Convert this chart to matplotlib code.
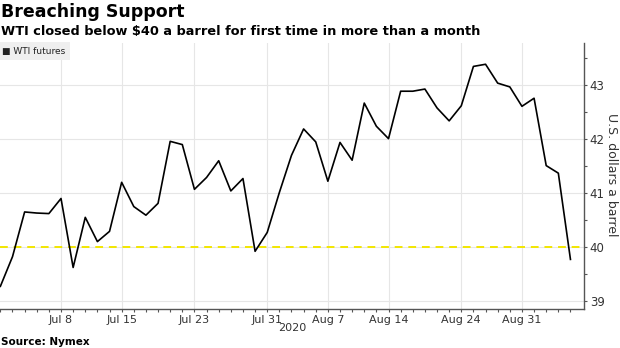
import matplotlib
matplotlib.use("Agg")
import matplotlib.pyplot as plt
from matplotlib.ticker import FixedLocator, MultipleLocator

# --- Data: WTI front-month closes (trading days only) ---
dates = ["Jun 30", "Jul 1", "Jul 2", "Jul 6", "Jul 7", "Jul 8", "Jul 9", "Jul 10",
         "Jul 13", "Jul 14", "Jul 15", "Jul 16", "Jul 17", "Jul 20", "Jul 21", "Jul 22",
         "Jul 23", "Jul 24", "Jul 27", "Jul 28", "Jul 29", "Jul 30", "Jul 31",
         "Aug 3", "Aug 4", "Aug 5", "Aug 6", "Aug 7", "Aug 10", "Aug 11", "Aug 12",
         "Aug 13", "Aug 14", "Aug 17", "Aug 18", "Aug 19", "Aug 20", "Aug 21",
         "Aug 24", "Aug 25", "Aug 26", "Aug 27", "Aug 28", "Aug 31",
         "Sep 1", "Sep 2", "Sep 3", "Sep 4"]
wti = [39.27, 39.82, 40.65, 40.63, 40.62, 40.90, 39.62, 40.55,
       40.10, 40.29, 41.20, 40.75, 40.59, 40.81, 41.96, 41.90,
       41.07, 41.29, 41.60, 41.04, 41.27, 39.92, 40.27,
       41.01, 41.70, 42.19, 41.95, 41.22, 41.94, 41.61, 42.67,
       42.24, 42.01, 42.89, 42.89, 42.93, 42.58, 42.34,
       42.62, 43.35, 43.39, 43.04, 42.97, 42.61,
       42.76, 41.51, 41.37, 39.77]
tick_labels = ["Jul 8", "Jul 15", "Jul 23", "Jul 31", "Aug 7", "Aug 14", "Aug 24", "Aug 31"]
support_level = 40
y_ticks = [39, 40, 41, 42, 43]

x = list(range(len(dates)))
tick_pos = [dates.index(lbl) for lbl in tick_labels]

fig = plt.figure(figsize=(6.2, 3.48), dpi=100)
ax = fig.add_axes([0.0, 0.1121, 0.9424, 0.7652])

ax.plot(x, wti, color="black", lw=1.2, zorder=3)
ax.axhline(support_level, color="#f2e600", lw=1.4, ls=(0, (4, 3)), zorder=2)

ax.set_xlim(-0.03, 48.14)
ax.set_ylim(38.85, 43.79)

# x axis: major ticks on labelled days, minor tick on every trading day
ax.xaxis.set_major_locator(FixedLocator(tick_pos))
ax.set_xticklabels(tick_labels)
ax.xaxis.set_minor_locator(FixedLocator(x))
ax.tick_params(axis="x", which="both", length=2.5, width=0.8, color="#555555",
               labelsize=8, labelcolor="#333333", pad=2)

# y axis on the right
ax.yaxis.tick_right()
ax.set_yticks(y_ticks)
ax.yaxis.set_minor_locator(MultipleLocator(0.5))
ax.tick_params(axis="y", which="both", length=2.5, width=0.8, color="#555555",
               labelsize=8.5, labelcolor="#333333", pad=1.5)

ax.grid(True, which="major", color="#e6e6e6", lw=0.8, zorder=0)
for side in ["top", "left"]:
    ax.spines[side].set_visible(False)
for side in ["right", "bottom"]:
    ax.spines[side].set_color("#555555")
    ax.spines[side].set_linewidth(1.0)

# legend box
ax.text(0.004, 0.985, "\u25a0 WTI futures", transform=ax.transAxes, fontsize=6.5,
        va="top", ha="left", color="#222222",
        bbox=dict(boxstyle="square,pad=0.5", fc="#efefef", ec="none"))

# titles / annotations
fig.text(612 / 620, 1 - 175 / 348, "U.S. dollars a barrel", rotation=270,
         fontsize=9, color="#333333", va="center", ha="center")
fig.text(0.002, 0.965, "Breaching Support", fontsize=12.5, fontweight="bold",
         va="center", ha="left")
fig.text(0.002, 0.91, "WTI closed below $40 a barrel for first time in more than a month",
         fontsize=9.3, fontweight="bold", va="center", ha="left")
fig.text(292 / 620, 1 - 328 / 348, "2020", fontsize=8, color="#333333",
         va="center", ha="center")
fig.text(0.002, 1 - 342 / 348, "Source: Nymex", fontsize=7.5, fontweight="bold",
         va="center", ha="left")

fig.savefig("out.png", dpi=100)
